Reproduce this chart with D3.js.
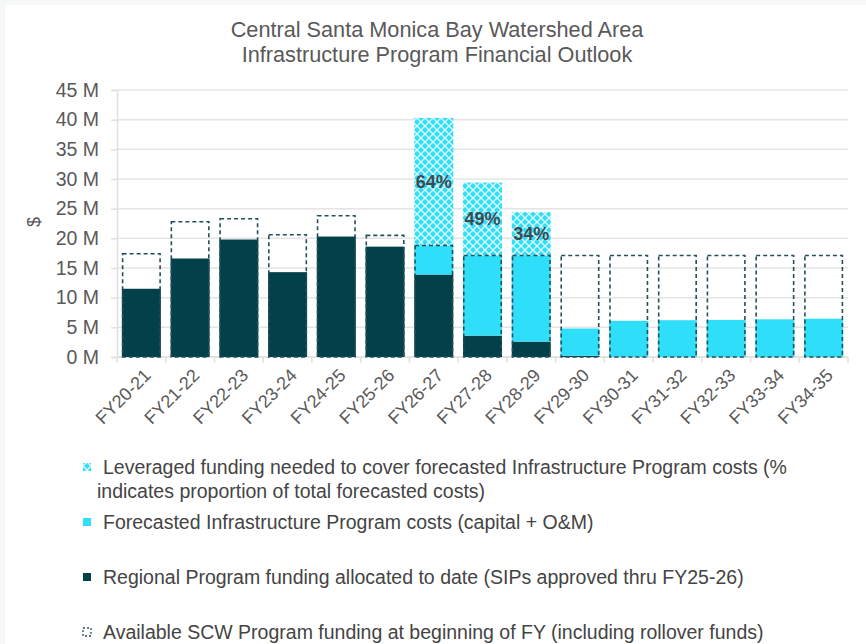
<!DOCTYPE html>
<html>
<head>
<meta charset="utf-8">
<script src="https://cdn.jsdelivr.net/npm/d3@7"></script>
<style>
  body { margin: 0; background: #f6f7f7; }
  svg { display: block; font-family: "Liberation Sans", Arial, sans-serif; }
</style>
</head>
<body>
<div class="chart"></div>
<script>
// Chart data (values in $M)
var years = ["FY20-21", "FY21-22", "FY22-23", "FY23-24", "FY24-25", "FY25-26", "FY26-27",
  "FY27-28", "FY28-29", "FY29-30", "FY30-31", "FY31-32", "FY32-33", "FY33-34", "FY34-35"];
var allocated = [11.5, 16.6, 19.8, 14.3, 20.3, 18.6, 13.9, 3.6, 2.6, 0.2, 0, 0, 0, 0, 0];
var forecast = [0, 0, 0, 0, 0, 0, 4.9, 13.5, 14.5, 4.6, 6.1, 6.2, 6.25, 6.35, 6.45];
var leveraged = [0, 0, 0, 0, 0, 0, 21.5, 12.3, 7.3, 0, 0, 0, 0, 0, 0];
var available = [17.4, 22.8, 23.3, 20.6, 23.8, 20.5, 18.8, 17.1, 17.1, 17.1, 17.1, 17.1, 17.1, 17.1, 17.1];
var pctLabels = ["", "", "", "", "", "", "64%", "49%", "34%", "", "", "", "", "", ""];
var yTicks = [0, 5, 10, 15, 20, 25, 30, 35, 40, 45];
var legendItems = [
  ["Leveraged funding needed to cover forecasted Infrastructure Program costs (%", "indicates proportion of total forecasted costs)"],
  ["Forecasted Infrastructure Program costs (capital + O&M)"],
  ["Regional Program funding allocated to date (SIPs approved thru FY25-26)"],
  ["Available SCW Program funding at beginning of FY (including rollover funds)"]
];

var svgWidth = 866;
var svgHeight = 644;
var margin = { top: 90, right: 18, bottom: 287, left: 117 };
var chartWidth = svgWidth - margin.left - margin.right;
var chartHeight = svgHeight - margin.top - margin.bottom;

var darkColor = "#02404a";
var cyanColor = "#2fdef8";
var textColor = "#595959";

var svg = d3.select(".chart")
  .append("svg")
  .attr("width", svgWidth)
  .attr("height", svgHeight);

// white card with a thin grey border at top/left
svg.append("rect")
  .attr("x", 5).attr("y", 5)
  .attr("width", svgWidth - 5).attr("height", svgHeight - 5)
  .attr("fill", "#ffffff");

// crosshatch pattern for leveraged funding
var defs = svg.append("defs");
var pat = defs.append("pattern")
  .attr("id", "hatch")
  .attr("patternUnits", "userSpaceOnUse")
  .attr("width", 8).attr("height", 8);
pat.append("rect").attr("width", 8).attr("height", 8).attr("fill", cyanColor);
pat.append("path")
  .attr("d", "M0,0 L8,8 M8,0 L0,8")
  .attr("stroke", "#ffffff")
  .attr("stroke-width", 1.3)
  .attr("stroke-opacity", 0.85);

// title
svg.append("text")
  .attr("x", 437).attr("y", 37)
  .attr("text-anchor", "middle")
  .attr("font-size", 21.7)
  .attr("fill", textColor)
  .text("Central Santa Monica Bay Watershed Area");
svg.append("text")
  .attr("x", 437).attr("y", 62)
  .attr("text-anchor", "middle")
  .attr("font-size", 21.7)
  .attr("fill", textColor)
  .text("Infrastructure Program Financial Outlook");

var chartGroup = svg.append("g")
  .attr("transform", `translate(${margin.left}, ${margin.top})`);

var xBandScale = d3.scaleBand()
  .domain(years)
  .range([0, chartWidth])
  .paddingInner(0.2)
  .paddingOuter(0.1);

var yLinearScale = d3.scaleLinear()
  .domain([0, 45])
  .range([chartHeight, 0]);

// gridlines
chartGroup.append("g")
  .selectAll("line")
  .data(yTicks)
  .enter()
  .append("line")
  .attr("x1", 0).attr("x2", chartWidth)
  .attr("y1", d => yLinearScale(d)).attr("y2", d => yLinearScale(d))
  .attr("stroke", "#e4e4e4")
  .attr("stroke-width", 1.5);

// left axis
var leftAxis = d3.axisLeft(yLinearScale)
  .tickValues(yTicks)
  .tickFormat(d => d + " M")
  .tickSize(6)
  .tickPadding(12);
var yAxisG = chartGroup.append("g").call(leftAxis);
yAxisG.select(".domain").attr("stroke", "#e0e0e0").attr("stroke-width", 1.5);
yAxisG.selectAll(".tick line").attr("stroke", "#e0e0e0").attr("stroke-width", 1.5);
yAxisG.selectAll("text")
  .attr("font-size", 19.5)
  .attr("fill", textColor)
  .attr("font-family", "Liberation Sans, Arial, sans-serif");

// "$" label
svg.append("text")
  .attr("transform", "translate(40, 222) rotate(-90)")
  .attr("text-anchor", "middle")
  .attr("font-size", 18)
  .attr("fill", textColor)
  .text("$");

// bottom axis with boundary ticks
var xAxisG = chartGroup.append("g")
  .attr("transform", `translate(0, ${chartHeight})`);
xAxisG.append("line")
  .attr("x1", 0).attr("x2", chartWidth)
  .attr("stroke", "#e0e0e0").attr("stroke-width", 1.5);
var step = xBandScale.step();
xAxisG.selectAll(".bt")
  .data(d3.range(years.length + 1))
  .enter()
  .append("line")
  .attr("x1", i => i * step + xBandScale.paddingOuter() * step - xBandScale.paddingInner() * step / 2)
  .attr("x2", i => i * step + xBandScale.paddingOuter() * step - xBandScale.paddingInner() * step / 2)
  .attr("y1", 0).attr("y2", 6)
  .attr("stroke", "#e0e0e0").attr("stroke-width", 1.5);

xAxisG.selectAll(".xl")
  .data(years)
  .enter()
  .append("text")
  .attr("transform", d => `translate(${xBandScale(d) + xBandScale.bandwidth() / 2 + 6}, 15) rotate(-45)`)
  .attr("text-anchor", "end")
  .attr("dy", "0.35em")
  .attr("font-size", 18)
  .attr("fill", textColor)
  .text(d => d);

// bars
var rows = years.map((y, i) => ({
  year: y,
  allocated: allocated[i],
  forecast: forecast[i],
  leveraged: leveraged[i],
  available: available[i],
  pct: pctLabels[i]
}));

var bw = xBandScale.bandwidth();

chartGroup.selectAll(".dark")
  .data(rows)
  .enter()
  .append("rect")
  .attr("x", d => xBandScale(d.year))
  .attr("y", d => yLinearScale(d.allocated))
  .attr("width", bw)
  .attr("height", d => chartHeight - yLinearScale(d.allocated))
  .attr("fill", darkColor);

chartGroup.selectAll(".cyan")
  .data(rows)
  .enter()
  .append("rect")
  .attr("x", d => xBandScale(d.year))
  .attr("y", d => yLinearScale(d.allocated + d.forecast))
  .attr("width", bw)
  .attr("height", d => yLinearScale(d.allocated) - yLinearScale(d.allocated + d.forecast))
  .attr("fill", cyanColor);

chartGroup.selectAll(".lev")
  .data(rows)
  .enter()
  .append("rect")
  .attr("x", d => xBandScale(d.year))
  .attr("y", d => yLinearScale(d.allocated + d.forecast + d.leveraged))
  .attr("width", bw)
  .attr("height", d => yLinearScale(d.allocated + d.forecast) - yLinearScale(d.allocated + d.forecast + d.leveraged))
  .attr("fill", "url(#hatch)");

chartGroup.selectAll(".avail")
  .data(rows)
  .enter()
  .append("rect")
  .attr("x", d => xBandScale(d.year) + 0.75)
  .attr("y", d => yLinearScale(d.available))
  .attr("width", bw - 1.5)
  .attr("height", d => chartHeight - yLinearScale(d.available))
  .attr("fill", "none")
  .attr("stroke", "#24505a")
  .attr("stroke-width", 1.6)
  .attr("stroke-dasharray", "4,3");

chartGroup.selectAll(".pct")
  .data(rows.filter(d => d.pct))
  .enter()
  .append("text")
  .attr("x", d => xBandScale(d.year) + bw / 2)
  .attr("y", d => yLinearScale(d.allocated + d.forecast + d.leveraged / 2))
  .attr("dy", "0.35em")
  .attr("text-anchor", "middle")
  .attr("font-size", 18)
  .attr("font-weight", "bold")
  .attr("fill", "#3a4a50")
  .text(d => d.pct);

// legend
var legendY = [474, 529, 584, 639];
var legend = svg.append("g");
legendItems.forEach(function(lines, i) {
  var g = legend.append("g").attr("transform", `translate(83, ${legendY[i]})`);
  var sw = g.append("rect")
    .attr("x", 0).attr("y", -11)
    .attr("width", 8).attr("height", 8);
  if (i === 0) sw.attr("fill", "url(#hatch)");
  else if (i === 1) sw.attr("fill", cyanColor);
  else if (i === 2) sw.attr("fill", darkColor);
  else sw.attr("fill", "none").attr("stroke", "#24505a").attr("stroke-width", 1.3).attr("stroke-dasharray", "2,2");
  lines.forEach(function(t, j) {
    g.append("text")
      .attr("x", j === 0 ? 20 : 14)
      .attr("y", j * 24)
      .attr("font-size", 19.5)
      .attr("fill", "#444444")
      .text(t);
  });
});
</script>
</body>
</html>
